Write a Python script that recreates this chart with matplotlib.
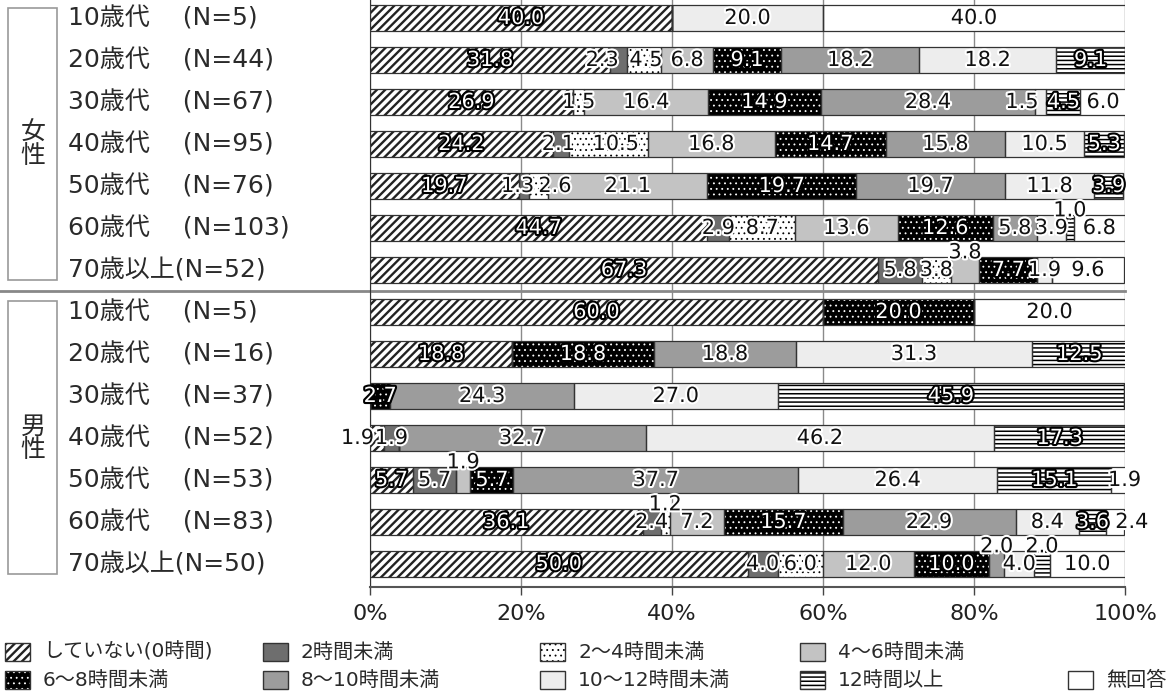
import matplotlib
matplotlib.use("Agg")
import matplotlib.pyplot as plt
import matplotlib.patheffects as pe
from matplotlib.patches import Rectangle
from matplotlib.lines import Line2D
from matplotlib.transforms import blended_transform_factory

plt.rcParams['font.family'] = ['DejaVu Sans', 'Noto Sans CJK JP']
plt.rcParams['hatch.linewidth'] = 1.2

# ---- data (percent) ----
row_labels = ['10歳代　 (N=5)', '20歳代　 (N=44)', '30歳代　 (N=67)', '40歳代　 (N=95)',
              '50歳代　 (N=76)', '60歳代　 (N=103)', '70歳以上(N=52)',
              '10歳代　 (N=5)', '20歳代　 (N=16)', '30歳代　 (N=37)', '40歳代　 (N=52)',
              '50歳代　 (N=53)', '60歳代　 (N=83)', '70歳以上(N=50)']
groups = ['女\n性', '男\n性']

categories = ['していない(0時間)', '2時間未満', '2〜4時間未満', '4〜6時間未満',
              '6〜8時間未満', '8〜10時間未満', '10〜12時間未満', '12時間以上', '無回答']

h0 = [40.0, 31.8, 26.9, 24.2, 19.7, 44.7, 67.3, 60.0, 18.8, 0, 1.9, 5.7, 36.1, 50.0]
h0_2 = [0, 2.3, 0, 2.1, 1.3, 2.9, 5.8, 0, 0, 0, 1.9, 5.7, 2.4, 4.0]
h2_4 = [0, 4.5, 1.5, 10.5, 2.6, 8.7, 3.8, 0, 0, 0, 0, 0, 1.2, 6.0]
h4_6 = [0, 6.8, 16.4, 16.8, 21.1, 13.6, 3.8, 0, 0, 0, 0, 1.9, 7.2, 12.0]
h6_8 = [0, 9.1, 14.9, 14.7, 19.7, 12.6, 7.7, 20.0, 18.8, 2.7, 0, 5.7, 15.7, 10.0]
h8_10 = [0, 18.2, 28.4, 15.8, 19.7, 5.8, 0, 0, 18.8, 24.3, 32.7, 37.7, 22.9, 2.0]
h10_12 = [20.0, 18.2, 1.5, 10.5, 11.8, 3.9, 1.9, 0, 31.3, 27.0, 46.2, 26.4, 8.4, 4.0]
h12 = [0, 9.1, 4.5, 5.3, 3.9, 1.0, 0, 0, 12.5, 45.9, 17.3, 15.1, 3.6, 2.0]
no_ans = [40.0, 0, 6.0, 0, 0, 6.8, 9.6, 20.0, 0, 0, 0, 1.9, 2.4, 10.0]
series = [h0, h0_2, h2_4, h4_6, h6_8, h8_10, h10_12, h12, no_ans]

# ---- styles: (face, hatch, hatch colour, hatch width, white label?) ----
styles = [
    ('white', '////', '#222222', 1.7, True),
    ('#6e6e6e', None, None, 1.0, False),
    ('white', '...', 'black', 0.6, False),
    ('#c3c3c3', None, None, 1.0, False),
    ('black', '...', 'white', 0.6, True),
    ('#9c9c9c', None, None, 1.0, False),
    ('#ededed', None, None, 1.0, False),
    ('white', '----', 'black', 1.1, True),
    ('white', None, None, 1.0, False),
]

# labels moved away from the segment centre: (row, cat) -> (dx, dy, leader)
moved = {
    (5, 7): (0, -0.42, True),
    (6, 3): (0, -0.42, False),
    (11, 3): (0, -0.42, False),
    (12, 2): (0, -0.42, False),
    (13, 5): (0, -0.42, False),
    (13, 7): (0, -0.42, False),
    (10, 0): (-2.6, 0, False),
    (12, 8): (2.2, 0, False),
    (11, 8): (0.8, 0, False),
    (2, 6): (-2.5, 0, False),
    (1, 1): (-2.2, 0, False),
    (1, 2): (0.2, 0, False),
    (4, 1): (-0.8, 0, False),
    (4, 2): (2.2, 0, False),
    (3, 1): (-0.3, 0, False),
    (3, 2): (1.0, 0, False),
}


def set_hatch_width(patch, width):
    if hasattr(patch, 'set_hatch_linewidth'):
        patch.set_hatch_linewidth(width)


fig = plt.figure(figsize=(11.68, 6.95), dpi=100)
W, H = 1168, 695
ax = fig.add_axes([370 / W, 1 - 587 / H, 755 / W, 587 / H])

rows = list(range(len(row_labels)))
bar_h = 0.62
left = [0.0] * len(rows)
for vals, (face, hatch, hcol, hw, white_lab) in zip(series, styles):
    bars = ax.barh(rows, vals, left=left, height=bar_h, color=face,
                   hatch=hatch, edgecolor=hcol if hcol else face, linewidth=0, zorder=2)
    for p in bars:
        set_hatch_width(p, hw)
    ax.barh(rows, vals, left=left, height=bar_h, fill=False,
            edgecolor='#333333', linewidth=0.9, zorder=3)
    left = [l + v for l, v in zip(left, vals)]

# value labels
left = [0.0] * len(rows)
for ci, (vals, st) in enumerate(zip(series, styles)):
    white_lab = st[4]
    for r, v in enumerate(vals):
        if v > 0:
            x = left[r] + v / 2
            y = r
            dx, dy, leader = moved.get((r, ci), (0, 0, False))
            outside = dy != 0 or dx < -2.4 or dx > 1.8
            if white_lab and not outside:
                col, stroke = 'white', 'black'
            else:
                col, stroke = '#111111', 'white'
            ax.text(x + dx, y + dy, f'{v:.1f}', ha='center', va='center',
                    fontsize=15, color=col, zorder=6,
                    path_effects=[pe.withStroke(linewidth=3, foreground=stroke)])
            if leader:
                ax.plot([x, x], [y + dy + 0.2, y - bar_h / 2], color='#333333',
                        lw=0.8, zorder=5)
        left[r] += v

ax.set_xlim(0, 100)
ax.set_ylim(len(rows) - 1 + 0.548, -0.4286)
ax.set_xticks(range(0, 101, 20))
ax.set_xticklabels([f'{t}%' for t in range(0, 101, 20)], fontsize=16, color='#222222')
ax.tick_params(axis='x', length=6, width=1, pad=6, color='#444444')
ax.set_yticks([])
ax.xaxis.grid(True, color='#8a8a8a', lw=1)
ax.set_axisbelow(True)
for s in ['top', 'right']:
    ax.spines[s].set_visible(False)
ax.spines['left'].set_color('#333333')
ax.spines['bottom'].set_color('#555555')
ax.spines['bottom'].set_linewidth(1.5)

# row labels and group boxes
bt = blended_transform_factory(fig.transFigure, ax.transData)
for r, lab in enumerate(row_labels):
    ax.text(68 / W, r, lab, transform=bt, ha='left', va='center',
            fontsize=18, color='#2a2a2a')
for g, name in enumerate(groups):
    top = g * 7 - 0.25
    ax.add_artist(Rectangle((8 / W, top), 49 / W, 6.5, transform=bt, fill=False,
                            edgecolor='#999999', lw=1.2, clip_on=False))
    ax.text(33 / W, g * 7 + 3, name, transform=bt, ha='center', va='center',
            fontsize=18, color='#2a2a2a', linespacing=0.95)
ax.add_artist(Line2D([0, 1125 / W], [6.5, 6.5], transform=bt, color='#888888',
                     lw=2, clip_on=False))

# legend, drawn by hand in two rows
leg_rows = [[0, 1, 2, 3], [4, 5, 6, 7, 8]]
col_x = [5, 263, 540, 800, 1068]
row_y = [652, 680]
for ri, items in enumerate(leg_rows):
    for k, ci in enumerate(items):
        face, hatch, hcol, hw, _ = styles[ci]
        x0 = col_x[k]
        y0 = row_y[ri]
        sw = Rectangle((x0 / W, 1 - (y0 + 9) / H), 25 / W, 18 / H,
                       transform=fig.transFigure, facecolor=face,
                       hatch=hatch, edgecolor=hcol if hcol else face, linewidth=0)
        set_hatch_width(sw, hw)
        fig.add_artist(sw)
        fig.add_artist(Rectangle((x0 / W, 1 - (y0 + 9) / H), 25 / W, 18 / H,
                                 transform=fig.transFigure, fill=False,
                                 edgecolor='#333333', linewidth=1))
        fig.text((x0 + 38) / W, 1 - y0 / H, categories[ci], ha='left', va='center',
                 fontsize=14.5, color='#2a2a2a')

fig.savefig('out.png', dpi=100)
